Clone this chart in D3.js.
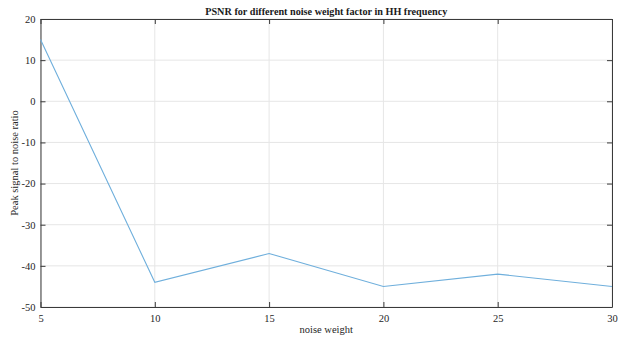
<!DOCTYPE html>
<html>
<head>
<meta charset="utf-8">
<script src="https://cdn.jsdelivr.net/npm/d3@7"></script>
<style>
  html, body { margin: 0; padding: 0; background: #fff; }
  svg { display: block; font-family: "Liberation Serif", "Times New Roman", serif; }
</style>
</head>
<body>
<svg id="chart" width="620" height="339"></svg>
<script>
// PSNR versus noise weight factor (HH sub-band)
const noiseWeights = [5, 10, 15, 20, 25, 30];
const psnrValues = [15, -44, -37, -45, -42, -45];
const xTicks = [5, 10, 15, 20, 25, 30];
const yTicks = [-50, -40, -30, -20, -10, 0, 10, 20];

const titleText = "PSNR for different noise weight factor in HH frequency";
const xLabel = "noise weight";
const yLabel = "Peak signal to noise ratio";

const W = 620, H = 339;
const m = { left: 40.5, right: 8, top: 19, bottom: 32 };
const iw = W - m.left - m.right, ih = H - m.top - m.bottom;

const svg = d3.select("#chart");
const g = svg.append("g").attr("transform", `translate(${m.left},${m.top})`);

const x = d3.scaleLinear().domain([5, 30]).range([0, iw]);
const y = d3.scaleLinear().domain([-50, 20]).range([ih, 0]);

// grid
g.append("g").selectAll("line").data(xTicks).join("line")
  .attr("x1", d => x(d)).attr("x2", d => x(d)).attr("y1", 0).attr("y2", ih)
  .attr("stroke", "#e6e6e6").attr("stroke-width", 1);
g.append("g").selectAll("line").data(yTicks).join("line")
  .attr("x1", 0).attr("x2", iw).attr("y1", d => y(d)).attr("y2", d => y(d))
  .attr("stroke", "#e6e6e6").attr("stroke-width", 1);

// axes with inward ticks, box all round
const axisColor = "#3a3a3a";
const tickLen = 5;
const fmt = d => String(d);
const bottomAxis = d3.axisBottom(x).tickValues(xTicks).tickFormat(fmt).tickSizeInner(-tickLen).tickSizeOuter(0).tickPadding(8);
const leftAxis = d3.axisLeft(y).tickValues(yTicks).tickFormat(fmt).tickSizeInner(-tickLen).tickSizeOuter(0).tickPadding(5);
const topAxis = d3.axisTop(x).tickValues(xTicks).tickSizeInner(-tickLen).tickSizeOuter(0).tickFormat("");
const rightAxis = d3.axisRight(y).tickValues(yTicks).tickSizeInner(-tickLen).tickSizeOuter(0).tickFormat("");

function styleAxis(sel) {
  sel.select(".domain").attr("stroke", axisColor);
  sel.selectAll(".tick line").attr("stroke", axisColor);
  sel.selectAll(".tick text").attr("fill", "#262626")
    .style("font-family", '"Liberation Serif", "Times New Roman", serif').style("font-size", "10.5px");
}

g.append("g").attr("transform", `translate(0,${ih})`).call(bottomAxis).call(styleAxis);
g.append("g").call(leftAxis).call(styleAxis);
g.append("g").call(topAxis).call(styleAxis);
g.append("g").attr("transform", `translate(${iw},0)`).call(rightAxis).call(styleAxis);

// data line
const line = d3.line().x((d, i) => x(noiseWeights[i])).y(d => y(d));
g.append("path").datum(psnrValues)
  .attr("d", line).attr("fill", "none")
  .attr("stroke", "#6fafdc").attr("stroke-width", 1.1);

// labels
svg.append("text").attr("x", m.left + iw / 2).attr("y", 15)
  .attr("text-anchor", "middle").attr("font-weight", "bold").attr("font-size", "10.2px")
  .attr("fill", "#1a1a1a").text(titleText);
svg.append("text").attr("x", m.left + iw / 2).attr("y", 333)
  .attr("text-anchor", "middle").attr("font-size", "10.5px").attr("fill", "#262626").text(xLabel);
svg.append("text").attr("transform", `translate(18,${m.top + ih / 2}) rotate(-90)`)
  .attr("text-anchor", "middle").attr("font-size", "10.5px").attr("fill", "#262626").text(yLabel);
</script>
</body>
</html>
